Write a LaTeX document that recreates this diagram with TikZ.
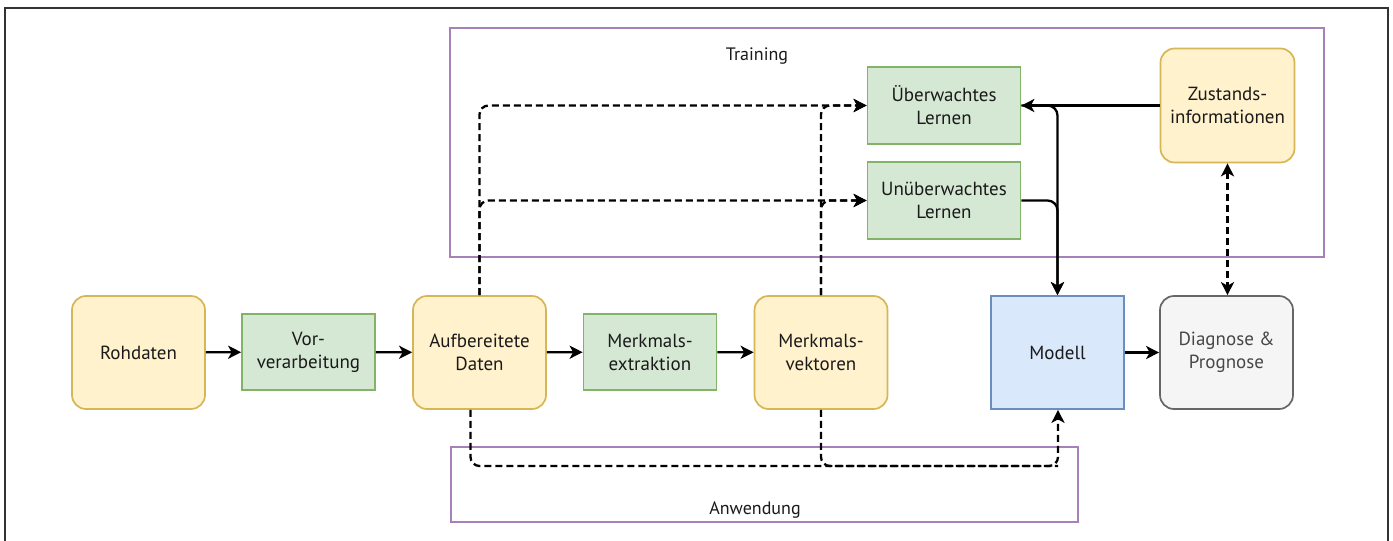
\documentclass[tikz,border=0pt]{standalone}
\usepackage{fontspec}
\setmainfont{PT Sans}
\usetikzlibrary{arrows.meta,calc}
\definecolor{yfill}{HTML}{FFF2CC}
\definecolor{ydraw}{HTML}{D6B656}
\definecolor{gfill}{HTML}{D5E8D4}
\definecolor{gdraw}{HTML}{82B366}
\definecolor{bfill}{HTML}{DAE8FC}
\definecolor{bdraw}{HTML}{6C8EBF}
\definecolor{grfill}{HTML}{F5F5F5}
\definecolor{grdraw}{HTML}{666666}
\definecolor{pdraw}{HTML}{A680B8}
\definecolor{txt}{HTML}{1A1A1A}
\tikzset{
  box/.style={draw, line width=1.7pt, align=center, text=txt,
    font=\fontsize{19}{23}\selectfont, inner sep=0pt},
  ybox/.style={box, fill=yfill, draw=ydraw, rounded corners=14pt,
    minimum width=133pt, minimum height=113pt},
  gbox/.style={box, fill=gfill, draw=gdraw, minimum width=133pt, minimum height=76pt},
  container/.style={draw=pdraw, line width=1.5pt, inner sep=0pt},
  lbl/.style={font=\fontsize{18}{23}\selectfont, text=txt, inner sep=0pt},
  tip/.style={Stealth[length=13pt,width=13pt,inset=3.5pt]},
  arr/.style={line width=2.3pt, -{Stealth[length=13pt,width=13pt,inset=3.5pt]}},
  darr/.style={arr, dash pattern=on 7pt off 4pt},
  dline/.style={line width=2.3pt, dash pattern=on 7pt off 4pt},
}
\begin{document}
\begin{tikzpicture}[x=1pt,y=-1pt]
\useasboundingbox (0,0) rectangle (1393,541);
\fill[white] (0,0) rectangle (1393,541);
% outer frame
\node[draw=black!80, line width=1.4pt, minimum width=1383pt, minimum height=560pt, inner sep=0pt] (frame) at (696.5,288) {};
% containers
\node[container, minimum width=874pt, minimum height=229pt] (train) at (887,142.5) {};
\node[lbl] (trainlbl) at (757,56) {Training};
\node[container, minimum width=627pt, minimum height=75pt] (anw) at (764.5,484.5) {};
\node[lbl] (anwlbl) at (755,510) {Anwendung};
% nodes
\node[ybox] (roh) at (138.5,352.5) {Rohdaten};
\node[gbox] (vor) at (308.5,352) {Vor-\\verarbeitung};
\node[ybox] (aufb) at (479.5,352.5) {Aufbereitete\\Daten};
\node[gbox] (mex) at (650,352) {Merkmals-\\extraktion};
\node[ybox] (mv) at (821,352.5) {Merkmals-\\vektoren};
\node[box, fill=bfill, draw=bdraw, minimum width=133pt, minimum height=113pt] (modell) at (1057.5,352.5) {Modell};
\node[box, fill=grfill, draw=grdraw, text=black!72, rounded corners=14pt, minimum width=133pt, minimum height=113pt] (diag) at (1226.5,352.5) {Diagnose \&\\Prognose};
\node[gbox, minimum width=153pt, minimum height=77pt] (ueb) at (944,105.5) {Überwachtes\\Lernen};
\node[gbox, minimum width=153pt, minimum height=77pt] (unueb) at (944,200.5) {Unüberwachtes\\Lernen};
\node[ybox, minimum width=134pt, minimum height=114pt] (zust) at (1227.5,105.5) {Zustands-\\informationen};
\coordinate (bj) at (1058,466);
% solid arrows
\draw[arr] (roh) -- (vor);
\draw[arr] (vor) -- (aufb);
\draw[arr] (aufb) -- (mex);
\draw[arr] (mex) -- (mv);
\draw[arr] (modell) -- (diag);
\draw[arr] (zust.west) -- (ueb.east);
\draw[arr, rounded corners=10pt] (ueb.east) -| (modell.north);
\draw[arr, rounded corners=10pt] (unueb.east) -| (modell.north);
% dashed top
\draw[darr, rounded corners=9pt] (aufb.north) |- (ueb.west);
\draw[darr, rounded corners=9pt] (aufb.north) |- (unueb.west);
\draw[darr, rounded corners=9pt] (mv.north) |- (ueb.west);
\draw[darr, rounded corners=9pt] (mv.north) |- (unueb.west);
% dashed bottom
\draw[darr, rounded corners=9pt] ([xshift=-9pt]aufb.south) |- (bj) -- (modell.south -| bj);
\draw[dline, rounded corners=9pt] (mv.south) |- (bj);
% zustand <-> diagnose
\draw[line width=2.3pt, dash pattern=on 7pt off 4pt, {Stealth[length=13pt,width=13pt,inset=3.5pt]}-{Stealth[length=13pt,width=13pt,inset=3.5pt]}] (zust.south) -- (zust.south |- diag.north);
\end{tikzpicture}
\end{document}
